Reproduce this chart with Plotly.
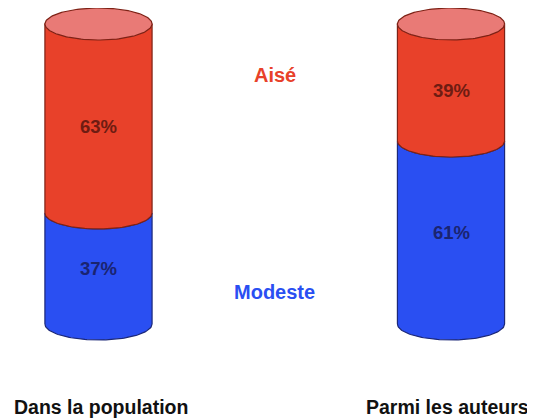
import numpy as np
import plotly.graph_objects as go

# ---- data ----
categories = ["Dans la population", "Parmi les auteurs"]
series_names = ["Modeste", "Aisé"]
modeste = [37, 61]
aise = [63, 39]

# ---- styles ----
FILL = {"Modeste": "#2a4ff2", "Aisé": "#e8412a"}
EDGE = {"Modeste": "#1c2878", "Aisé": "#7e2216"}
TEXT = {"Modeste": "#1a2470", "Aisé": "#6e1c12"}
TOP_FILL = "#e97a76"
HALF_W = 0.152      # half width of a cylinder (x units)
B = 16 / 3          # half height of the ellipses (y units)
N = 80
FONT = "Liberation Sans, Arial"
CAT_SHIFT = [3, -4]

fig = go.Figure()


def lower_arc(cx, cy, left_to_right=True):
    t = np.linspace(np.pi, 2 * np.pi, N) if left_to_right else np.linspace(2 * np.pi, np.pi, N)
    return cx + HALF_W * np.cos(t), cy + B * np.sin(t)


for i, cat in enumerate(categories):
    lo = 0
    segs = [("Modeste", modeste[i]), ("Aisé", aise[i])]
    for name, val in segs:
        hi = lo + val
        x1, y1 = lower_arc(i, lo, True)
        if hi >= 100:
            x2 = np.array([i + HALF_W, i - HALF_W])
            y2 = np.array([hi, hi])
        else:
            x2, y2 = lower_arc(i, hi, False)
        xs = np.concatenate([x1, x2, [x1[0]]])
        ys = np.concatenate([y1, y2, [y1[0]]])
        fig.add_trace(go.Scatter(x=xs, y=ys, mode="lines", fill="toself",
                                 fillcolor=FILL[name],
                                 line=dict(color=EDGE[name], width=1.2),
                                 hoverinfo="skip", showlegend=False))
        # percentage label
        top_vis = hi - B if hi >= 100 else hi
        fig.add_annotation(x=i, y=(lo + top_vis) / 2, text=f"<b>{val}%</b>",
                           showarrow=False,
                           font=dict(family=FONT, size=18.5, color=TEXT[name]))
        lo = hi
    # top ellipse
    t = np.linspace(0, 2 * np.pi, 2 * N)
    fig.add_trace(go.Scatter(x=i + HALF_W * np.cos(t), y=100 + B * np.sin(t),
                             mode="lines", fill="toself", fillcolor=TOP_FILL,
                             line=dict(color=EDGE["Aisé"], width=1.2),
                             hoverinfo="skip", showlegend=False))
    # category label
    fig.add_annotation(x=i, y=-27.7, text=f"<b>{cat}</b>", showarrow=False,
                       xshift=CAT_SHIFT[i],
                       font=dict(family=FONT, size=19.5, color="#111111"))

# series labels between the cylinders
fig.add_annotation(x=0.5, y=83, text="<b>Aisé</b>", showarrow=False,
                   font=dict(family=FONT, size=20, color=FILL["Aisé"]))
fig.add_annotation(x=0.5, y=10.7, text="<b>Modeste</b>", showarrow=False,
                   font=dict(family=FONT, size=20, color=FILL["Modeste"]))

fig.update_layout(
    width=527, height=410, autosize=False,
    margin=dict(l=0, r=0, t=0, b=0),
    paper_bgcolor="white", plot_bgcolor="white",
    xaxis=dict(range=[-0.2567, 1.2383], visible=False, fixedrange=True),
    yaxis=dict(range=[-31.33, 105.33], visible=False, fixedrange=True),
)

fig.write_html("out.html")
